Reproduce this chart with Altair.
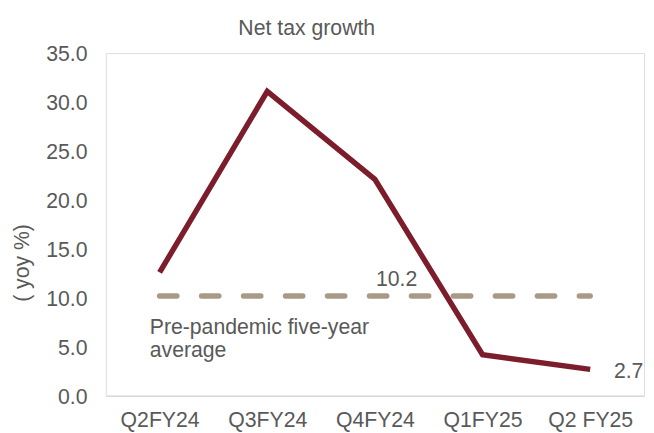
import altair as alt
import pandas as pd

quarters = ["Q2FY24", "Q3FY24", "Q4FY24", "Q1FY25", "Q2 FY25"]
net_tax_growth = [12.6, 31.1, 22.1, 4.2, 2.7]
pre_pandemic_avg = [10.2, 10.2, 10.2, 10.2, 10.2]

avg_label = ["10.2"]
avg_label_at = ["Q4FY24"]
last_label = ["2.7"]
last_label_at = ["Q2 FY25"]
last_value = [2.7]
note_lines = [["Pre-pandemic five-year", "average"]]
note_at = ["Q2FY24"]
note_value = [6.35]

FONT = "Liberation Sans"
GREY = "#595959"
FS = 21.5

df = pd.DataFrame({"q": quarters, "v": net_tax_growth, "avg": pre_pandemic_avg})
df_avg_lab = pd.DataFrame({"q": avg_label_at, "v": pre_pandemic_avg[:1], "t": avg_label})
df_last_lab = pd.DataFrame({"q": last_label_at, "v": last_value, "t": last_label})
df_note = pd.DataFrame({"q": note_at, "v": note_value, "t": note_lines})

xscale = alt.Scale(domain=quarters, padding=0.5)
yscale = alt.Scale(domain=[0, 35])

x_enc = alt.X("q:N", sort=quarters, scale=xscale, title=None,
              axis=alt.Axis(labelAngle=0, ticks=False, tickSize=0, domainColor="#D9D9D9",
                            domainWidth=1.5, labelPadding=14, labelFontSize=FS,
                            labelColor=GREY, labelFont=FONT, grid=False))
y_enc = alt.Y("v:Q", scale=yscale, title="( yoy %)",
              axis=alt.Axis(values=[0, 5, 10, 15, 20, 25, 30, 35], format=".1f", ticks=False,
                            tickSize=0, domain=False, grid=False, labelPadding=19,
                            labelOffset=2,
                            labelFontSize=FS, labelColor=GREY, labelFont=FONT,
                            titleFont=FONT, titleFontSize=FS, titleColor=GREY,
                            titleFontWeight="normal", titleAngle=-90, titleX=-84,
                            titleY=212, titleAlign="center", titleBaseline="middle"))

base = alt.Chart(df)

avg_line = base.mark_line(color="#A89A86", strokeWidth=5.5, strokeDash=[17.5, 25],
                          strokeCap="round").encode(
    x=x_enc, y=alt.Y("avg:Q", scale=yscale))

main_line = base.mark_line(color="#7B1D2B", strokeWidth=5.5, strokeJoin="miter").encode(
    x=x_enc, y=y_enc)

avg_text = alt.Chart(df_avg_lab).mark_text(
    font=FONT, fontSize=FS, color=GREY, align="center", baseline="alphabetic", dx=22, dy=-10
).encode(x=alt.X("q:N", sort=quarters, scale=xscale), y=alt.Y("v:Q", scale=yscale), text="t:N")

last_text = alt.Chart(df_last_lab).mark_text(
    font=FONT, fontSize=FS, color=GREY, align="left", baseline="middle", dx=24, dy=3
).encode(x=alt.X("q:N", sort=quarters, scale=xscale), y=alt.Y("v:Q", scale=yscale), text="t:N")

note_text = alt.Chart(df_note).mark_text(
    font=FONT, fontSize=FS, color=GREY, align="left", baseline="alphabetic", dx=-10,
    lineHeight=24
).encode(x=alt.X("q:N", sort=quarters, scale=xscale), y=alt.Y("v:Q", scale=yscale), text="t")

chart = alt.layer(avg_line, main_line, avg_text, last_text, note_text).properties(
    width=545, height=347,
    title=alt.TitleParams("Net tax growth", font=FONT, fontSize=FS, color=GREY,
                          fontWeight="normal", anchor="middle", dx=-69, offset=5),
    autosize=alt.AutoSizeParams(type="none"),
    padding={"left": 99, "top": 43, "right": 2, "bottom": 35},
).configure_view(stroke=None).configure(background="white")

chart.save("out.html", embed_options={"renderer": "svg", "actions": False})
